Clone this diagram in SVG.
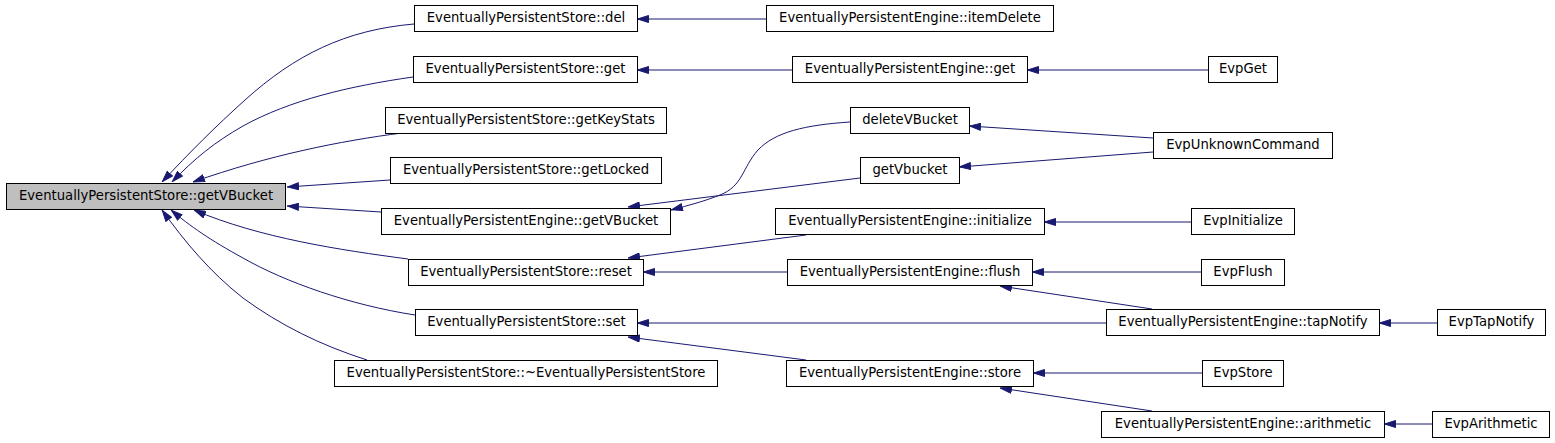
<svg xmlns="http://www.w3.org/2000/svg" width="1555" height="443" viewBox="0 0 1555 443">
<style>
.n rect{fill:#fff;stroke:#000;stroke-width:1}
.n.main rect{fill:#bfbfbf}
.n text{font-family:"DejaVu Sans","Liberation Sans",sans-serif;font-size:13.2px;fill:#000;text-anchor:middle}
.e path{fill:none;stroke:#191970;stroke-width:1;marker-end:url(#ah)}
</style>
<defs>
<marker id="ah" viewBox="0 0 12 8" refX="12" refY="4" markerWidth="12" markerHeight="8" markerUnits="userSpaceOnUse" orient="auto">
<path d="M0.5,0.5 L11.5,4 L0.5,7.5 z" fill="#191970" stroke="#191970" stroke-width="1"/>
</marker>
</defs>
<rect width="1555" height="443" fill="#fff"/>
<g id="edges" class="e">
<path d="M414,24 C345,30 295,55 245,100 C215,127 190,152 162,182"/>
<path d="M413,77 C350,86 290,100 243,126 C215,142 195,158 172,182"/>
<path d="M402,133 C340,141 270,155 193,182"/>
<path d="M390,180 L287,187"/>
<path d="M381,212 L287,206"/>
<path d="M408,259 C340,250 260,238 194,210"/>
<path d="M415,315 C350,305 285,282 243,258 C210,240 190,226 171,210"/>
<path d="M367,360 C320,345 280,325 243,298 C210,272 185,242 162,210"/>
<path d="M766,19 L637,19"/>
<path d="M792,70 L637,70"/>
<path d="M850,122 C805,125 775,132 758,150 C742,168 743,186 720,195 C705,201 690,205 671,210"/>
<path d="M860,178 L628,207"/>
<path d="M806,235 L628,258"/>
<path d="M787,272 L643,272"/>
<path d="M1106,323 L637,323"/>
<path d="M806,360 L628,337"/>
<path d="M1208,70 L1027,70"/>
<path d="M1153,138 L969,126"/>
<path d="M1153,152 L959,167"/>
<path d="M1191,222 L1044,222"/>
<path d="M1201,272 L1032,272"/>
<path d="M1152,309 L1000,286"/>
<path d="M1437,323 L1379,323"/>
<path d="M1202,373 L1033,373"/>
<path d="M1152,411 L1000,388"/>
<path d="M1432,424 L1384,424"/>
</g>
<g id="n_main" class="n main"><rect x="6.5" y="183.5" width="279" height="26"/><text x="146" y="200">EventuallyPersistentStore::getVBucket</text></g>
<g id="n_del" class="n"><rect x="414.5" y="5.5" width="223" height="26"/><text x="526" y="22">EventuallyPersistentStore::del</text></g>
<g id="n_get" class="n"><rect x="413.5" y="56.5" width="224" height="26"/><text x="525.5" y="73">EventuallyPersistentStore::get</text></g>
<g id="n_getKeyStats" class="n"><rect x="385.5" y="107.5" width="281" height="26"/><text x="526" y="124">EventuallyPersistentStore::getKeyStats</text></g>
<g id="n_getLocked" class="n"><rect x="390.5" y="157.5" width="271" height="26"/><text x="526" y="174">EventuallyPersistentStore::getLocked</text></g>
<g id="n_engGetVBucket" class="n"><rect x="381.5" y="208.5" width="289" height="26"/><text x="526" y="225">EventuallyPersistentEngine::getVBucket</text></g>
<g id="n_reset" class="n"><rect x="408.5" y="259.5" width="235" height="26"/><text x="526" y="276">EventuallyPersistentStore::reset</text></g>
<g id="n_set" class="n"><rect x="415.5" y="309.5" width="222" height="26"/><text x="526.5" y="326">EventuallyPersistentStore::set</text></g>
<g id="n_dtor" class="n"><rect x="334.5" y="360.5" width="383" height="26"/><text x="526" y="377">EventuallyPersistentStore::~EventuallyPersistentStore</text></g>
<g id="n_itemDelete" class="n"><rect x="766.5" y="5.5" width="287" height="26"/><text x="910" y="22">EventuallyPersistentEngine::itemDelete</text></g>
<g id="n_engGet" class="n"><rect x="792.5" y="56.5" width="235" height="26"/><text x="910" y="73">EventuallyPersistentEngine::get</text></g>
<g id="n_deleteVBucket" class="n"><rect x="850.5" y="107.5" width="119" height="26"/><text x="910" y="124">deleteVBucket</text></g>
<g id="n_getVbucket" class="n"><rect x="860.5" y="157.5" width="99" height="26"/><text x="910" y="174">getVbucket</text></g>
<g id="n_initialize" class="n"><rect x="775.5" y="208.5" width="269" height="26"/><text x="910" y="225">EventuallyPersistentEngine::initialize</text></g>
<g id="n_flush" class="n"><rect x="787.5" y="259.5" width="245" height="26"/><text x="910" y="276">EventuallyPersistentEngine::flush</text></g>
<g id="n_store" class="n"><rect x="786.5" y="360.5" width="247" height="26"/><text x="910" y="377">EventuallyPersistentEngine::store</text></g>
<g id="n_tapNotify" class="n"><rect x="1106.5" y="309.5" width="273" height="26"/><text x="1243" y="326">EventuallyPersistentEngine::tapNotify</text></g>
<g id="n_arithmetic" class="n"><rect x="1101.5" y="411.5" width="283" height="26"/><text x="1243" y="428">EventuallyPersistentEngine::arithmetic</text></g>
<g id="n_EvpGet" class="n"><rect x="1208.5" y="56.5" width="69" height="26"/><text x="1243" y="73">EvpGet</text></g>
<g id="n_EvpUnknownCommand" class="n"><rect x="1153.5" y="132.5" width="179" height="26"/><text x="1243" y="149">EvpUnknownCommand</text></g>
<g id="n_EvpInitialize" class="n"><rect x="1191.5" y="208.5" width="103" height="26"/><text x="1243" y="225">EvpInitialize</text></g>
<g id="n_EvpFlush" class="n"><rect x="1201.5" y="259.5" width="83" height="26"/><text x="1243" y="276">EvpFlush</text></g>
<g id="n_EvpStore" class="n"><rect x="1202.5" y="360.5" width="81" height="26"/><text x="1243" y="377">EvpStore</text></g>
<g id="n_EvpTapNotify" class="n"><rect x="1437.5" y="309.5" width="108" height="26"/><text x="1491.5" y="326">EvpTapNotify</text></g>
<g id="n_EvpArithmetic" class="n"><rect x="1432.5" y="411.5" width="117" height="26"/><text x="1491" y="428">EvpArithmetic</text></g>
</svg>
